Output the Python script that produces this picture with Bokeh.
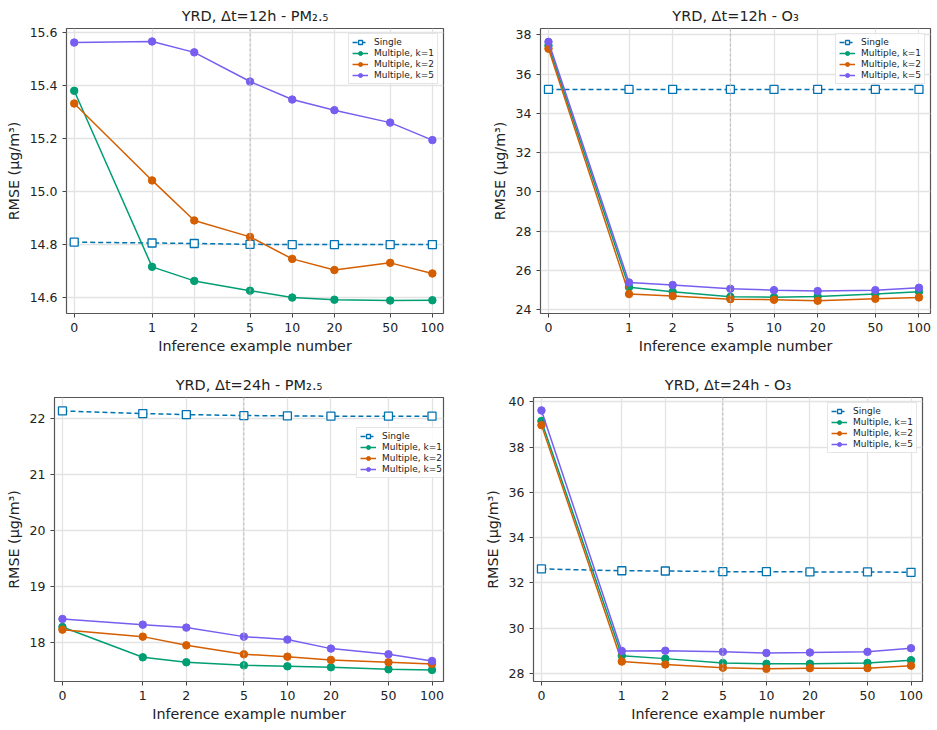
import numpy as np
from bokeh.plotting import figure
from bokeh.layouts import column, row
from bokeh.models import FixedTicker, CustomJSTickFormatter, Span, Range1d, NumeralTickFormatter
from bokeh.embed import file_html
from bokeh.resources import INLINE

# ---------------- data ----------------
x_values = [0, 1, 2, 5, 10, 20, 50, 100]
x_labels = ["0", "1", "2", "5", "10", "20", "50", "100"]

titles = [
    "YRD, Δt=12h - PM₂.₅",
    "YRD, Δt=12h - O₃",
    "YRD, Δt=24h - PM₂.₅",
    "YRD, Δt=24h - O₃",
]

single_12_pm = [14.809, 14.806, 14.804, 14.801, 14.800, 14.800, 14.800, 14.800]
k1_12_pm = [15.380, 14.716, 14.663, 14.626, 14.600, 14.592, 14.589, 14.590]
k2_12_pm = [15.332, 15.042, 14.891, 14.829, 14.746, 14.704, 14.731, 14.691]
k5_12_pm = [15.562, 15.566, 15.525, 15.415, 15.347, 15.307, 15.260, 15.194]

single_12_o3 = [35.22, 35.22, 35.22, 35.22, 35.22, 35.22, 35.22, 35.22]
k1_12_o3 = [37.45, 25.15, 24.92, 24.66, 24.64, 24.68, 24.80, 24.92]
k2_12_o3 = [37.29, 24.80, 24.70, 24.54, 24.51, 24.46, 24.56, 24.63]
k5_12_o3 = [37.64, 25.39, 25.26, 25.07, 25.00, 24.95, 25.00, 25.12]

single_24_pm = [22.130, 22.083, 22.065, 22.048, 22.042, 22.036, 22.036, 22.036]
k1_24_pm = [18.274, 17.732, 17.643, 17.589, 17.571, 17.554, 17.518, 17.506]
k2_24_pm = [18.226, 18.101, 17.946, 17.786, 17.744, 17.685, 17.643, 17.613]
k5_24_pm = [18.417, 18.315, 18.262, 18.101, 18.048, 17.887, 17.786, 17.667]

single_24_o3 = [32.62, 32.54, 32.53, 32.50, 32.50, 32.49, 32.49, 32.47]
k1_24_o3 = [39.15, 28.79, 28.66, 28.47, 28.43, 28.43, 28.47, 28.59]
k2_24_o3 = [38.97, 28.53, 28.40, 28.26, 28.21, 28.24, 28.24, 28.35]
k5_24_o3 = [39.62, 29.00, 29.01, 28.96, 28.91, 28.93, 28.96, 29.12]

y_ticks = [
    [14.6, 14.8, 15.0, 15.2, 15.4, 15.6],
    [24, 26, 28, 30, 32, 34, 36, 38],
    [18, 19, 20, 21, 22],
    [28, 30, 32, 34, 36, 38, 40],
]
y_formats = ["0.0", "0", "0", "0"]
y_ranges = [(14.54, 15.615), (23.81, 38.32), (17.30, 22.37), (27.65, 40.19)]

series_names = ["Single", "Multiple, k=1", "Multiple, k=2", "Multiple, k=5"]
colors = ["#0072B2", "#009E73", "#D55E00", "#785EF0"]

# ---------------- helpers ----------------
LINSCALE = 0.5 / (1 - 1 / 10.0)


def symlog(v):
    v = np.asarray(v, dtype=float)
    out = np.where(v <= 1, v * LINSCALE, LINSCALE + np.log10(np.maximum(v, 1)))
    return out


xt = symlog(x_values)
FONT = "DejaVu Sans"

geoms = [
    dict(w=468, h=365, l=66, r=25, t=28, b=52, loc="top_right"),
    dict(w=469, h=365, l=72, r=7, t=28, b=52, loc="top_right"),
    dict(w=468, h=365, l=54, r=25, t=32, b=49, loc=(302, 203)),
    dict(w=469, h=365, l=65, r=15, t=32, b=48, loc="top_right"),
]

panel_data = [
    [single_12_pm, k1_12_pm, k2_12_pm, k5_12_pm],
    [single_12_o3, k1_12_o3, k2_12_o3, k5_12_o3],
    [single_24_pm, k1_24_pm, k2_24_pm, k5_24_pm],
    [single_24_o3, k1_24_o3, k2_24_o3, k5_24_o3],
]

figs = []
for i in range(4):
    g = geoms[i]
    p = figure(width=g["w"], height=g["h"], output_backend="svg", toolbar_location=None,
               x_range=Range1d(-0.055, 2.635), y_range=Range1d(*y_ranges[i]),
               min_border_left=g["l"], min_border_right=g["r"],
               min_border_top=g["t"], min_border_bottom=g["b"])
    p.title.text = titles[i]
    p.title.align = "center"
    p.title.text_font = FONT
    p.title.text_font_style = "normal"
    p.title.text_font_size = "14.5px"
    p.title.text_color = "#222222"

    p.outline_line_color = "#555555"
    p.outline_line_width = 1.2

    p.xaxis.ticker = FixedTicker(ticks=list(xt))
    p.xaxis.formatter = CustomJSTickFormatter(args=dict(labels=x_labels),
                                              code="return labels[index];")
    p.yaxis.ticker = FixedTicker(ticks=y_ticks[i])
    p.yaxis.formatter = NumeralTickFormatter(format=y_formats[i])
    for ax in (p.xaxis[0], p.yaxis[0]):
        ax.axis_line_color = None
        ax.major_tick_line_color = "#444444"
        ax.major_tick_out = 4
        ax.major_tick_in = 0
        ax.minor_tick_line_color = None
        ax.major_label_text_font = FONT
        ax.major_label_text_font_size = "12.5px"
        ax.major_label_text_color = "#222222"
        ax.axis_label_text_font = FONT
        ax.axis_label_text_font_size = "14.3px"
        ax.axis_label_text_font_style = "normal"
        ax.axis_label_text_color = "#222222"
    p.xaxis.axis_label = "Inference example number"
    p.yaxis.axis_label = "RMSE (μg/m³)"
    p.xaxis.axis_label_standoff = 3
    p.yaxis.axis_label_standoff = 5

    p.xgrid.ticker = FixedTicker(ticks=list(xt))
    p.ygrid.ticker = FixedTicker(ticks=y_ticks[i])
    p.grid.grid_line_color = "#e3e3e3"
    p.grid.grid_line_width = 1.3

    p.add_layout(Span(location=float(symlog([5])[0]), dimension="height",
                      line_color="#bbbbbb", line_dash="3 2", line_width=1))

    data = panel_data[i]
    p.line(xt, data[0], line_color=colors[0], line_width=1.5, line_dash="5 3",
           legend_label=series_names[0])
    p.scatter(xt, data[0], marker="square", size=8, line_color=colors[0],
              fill_color="white", line_width=1.3, legend_label=series_names[0])
    for j in range(1, 4):
        p.line(xt, data[j], line_color=colors[j], line_width=1.5,
               legend_label=series_names[j])
        p.scatter(xt, data[j], marker="circle", size=7.5, line_color=colors[j],
                  fill_color=colors[j], legend_label=series_names[j])

    lg = p.legend[0]
    lg.location = g["loc"]
    lg.label_text_font = FONT
    lg.label_text_font_size = "9px"
    lg.label_text_color = "#222222"
    lg.label_height = 10
    lg.glyph_height = 10
    lg.glyph_width = 16
    lg.spacing = 1
    lg.padding = 3
    lg.margin = 5
    lg.label_standoff = 6
    lg.border_line_color = "#cccccc"
    lg.border_line_width = 1
    lg.background_fill_alpha = 0.85
    figs.append(p)

layout = column(row(figs[0], figs[1]), row(figs[2], figs[3]))

open("out.html", "w").write(file_html(layout, INLINE))
